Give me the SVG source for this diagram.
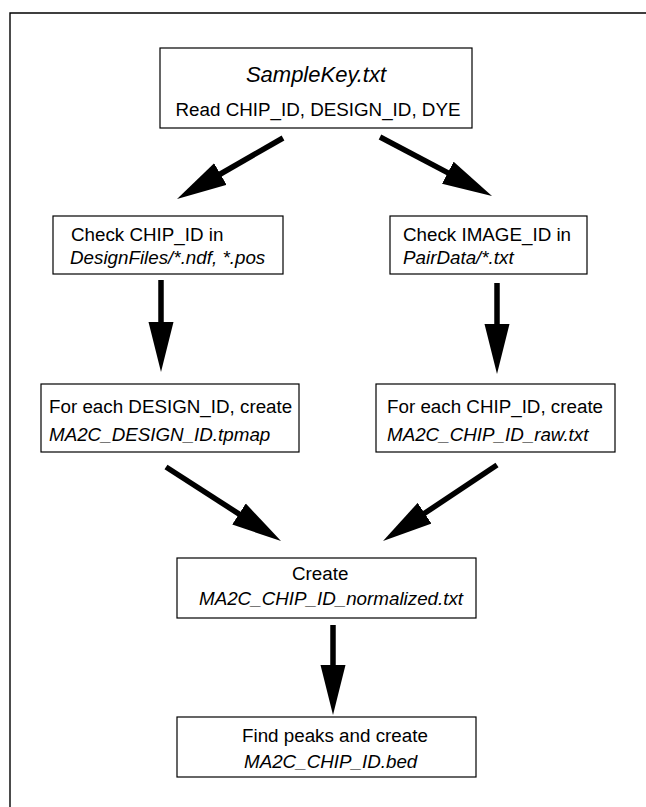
<svg xmlns="http://www.w3.org/2000/svg" width="646" height="807" viewBox="0 0 646 807">
<style>
  .box{fill:#fff;stroke:#000;stroke-width:1.2}
  .t{font-family:"Liberation Sans",Arial,Helvetica,sans-serif;font-size:18.8px;fill:#000}
  .i{font-style:italic}
  .h{font-size:22px}
  .c{stroke:#000;stroke-width:5.5;fill:none;marker-end:url(#ah)}
</style>
<defs>
  <marker id="ah" markerUnits="userSpaceOnUse" markerWidth="50" markerHeight="26" refX="10" refY="13" orient="auto">
    <path d="M0,0.5 L50,13 L0,25.5 z" fill="#000"/>
  </marker>
</defs>
<rect width="646" height="807" fill="#fff"/>
<path d="M10,807 V13 H646" fill="none" stroke="#000" stroke-width="1.4"/>
<g id="connectors">
  <path class="c" d="M283,138 L211.7,179"/>
  <path class="c" d="M380,137 L456.6,177.4"/>
  <path class="c" d="M161,280 L161,332"/>
  <path class="c" d="M497,283 L497,334"/>
  <path class="c" d="M166,467 L247.4,519.4"/>
  <path class="c" d="M497,465 L416.3,518.8"/>
  <path class="c" d="M333,625 L333,675"/>
</g>
<g id="n1">
  <rect class="box" x="160" y="48" width="312" height="80"/>
  <text class="t i h" x="316" y="82" text-anchor="middle">SampleKey.txt</text>
  <text class="t" x="318" y="116" text-anchor="middle">Read CHIP_ID, DESIGN_ID, DYE</text>
</g>
<g id="n2">
  <rect class="box" x="53" y="216" width="230" height="58"/>
  <text class="t" x="71" y="241">Check CHIP_ID in</text>
  <text class="t i" x="70" y="264">DesignFiles/*.ndf, *.pos</text>
</g>
<g id="n3">
  <rect class="box" x="390" y="216" width="197" height="58"/>
  <text class="t" x="403" y="241">Check IMAGE_ID in</text>
  <text class="t i" x="403" y="264">PairData/*.txt</text>
</g>
<g id="n4">
  <rect class="box" x="41" y="384" width="258" height="68"/>
  <text class="t" x="49" y="413">For each DESIGN_ID, create</text>
  <text class="t i" x="49" y="441">MA2C_DESIGN_ID.tpmap</text>
</g>
<g id="n5">
  <rect class="box" x="376" y="384" width="239" height="68"/>
  <text class="t" x="387" y="413">For each CHIP_ID, create</text>
  <text class="t i" x="387" y="441">MA2C_CHIP_ID_raw.txt</text>
</g>
<g id="n6">
  <rect class="box" x="177" y="558" width="299" height="60"/>
  <text class="t" x="292" y="580">Create</text>
  <text class="t i" x="199" y="605">MA2C_CHIP_ID_normalized.txt</text>
</g>
<g id="n7">
  <rect class="box" x="177" y="717" width="299" height="60"/>
  <text class="t" x="242" y="742">Find peaks and create</text>
  <text class="t i" x="244" y="768">MA2C_CHIP_ID.bed</text>
</g>
</svg>
